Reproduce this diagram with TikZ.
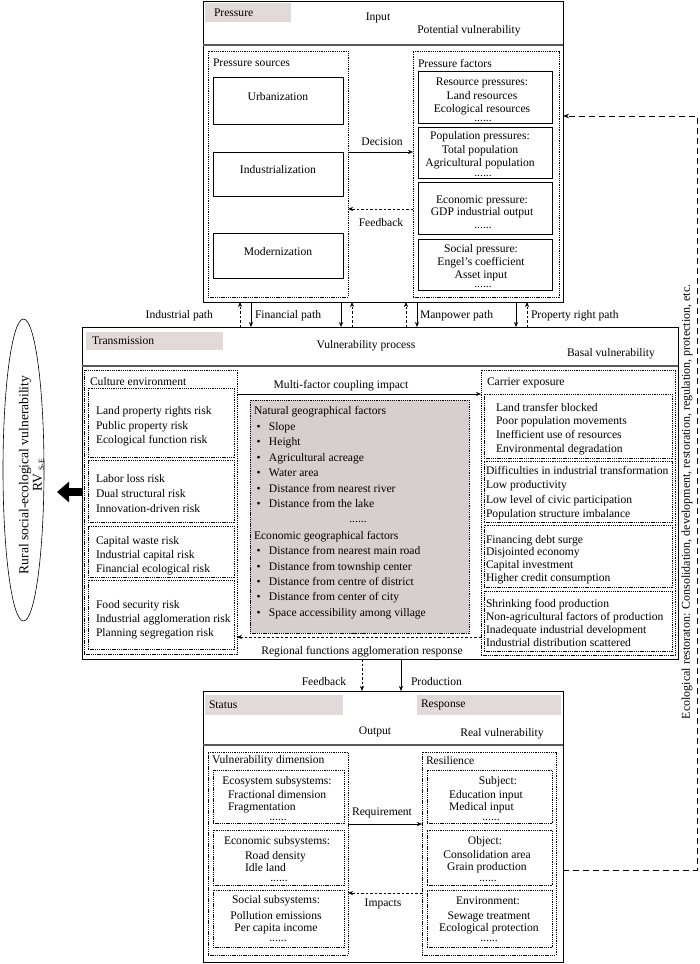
\documentclass[tikz,border=0pt]{standalone}
\usepackage{fontspec}
\setmainfont{Liberation Serif}
\usetikzlibrary{arrows.meta,fit,shapes.geometric}
\definecolor{hdrgray}{RGB}{226,218,216}
\definecolor{boxgray}{RGB}{215,207,205}
\newcommand\fl[1]{\fontsize{11.6}{#1}\selectfont}
\newcommand\bl{\makebox[15pt][l]{\hspace{2.5pt}\textbullet}}
\begin{document}
\begin{tikzpicture}[x=1pt,y=-1pt,
  every node/.style={inner sep=0pt,outer sep=0pt,font=\fl{13.5}},
  solidbox/.style={draw,line width=0.7pt},
  dotbox/.style={draw,line width=0.5pt,dash pattern=on 1.3pt off 0.9pt},
  grayfill/.style={fill=hdrgray},
  arr/.style={-{Stealth[length=5pt,width=4pt]},line width=0.6pt},
  darr/.style={arr,dash pattern=on 2.5pt off 2pt},
  hline/.style={line width=1.1pt,draw=black!65},
  loopline/.style={line width=0.7pt,dash pattern=on 6pt off 4pt},
]
\fill[white] (0,0) rectangle (700,964);
\useasboundingbox (0,0) rectangle (700,964);

% ---------------- top box: Pressure ----------------
\node[solidbox,fit={(203,1)(563,302)}] (top) {};
\draw[hline] (top.west |- 0,45) -- (top.east |- 0,45);
\node[grayfill,fit={(205,3)(291,22)}] (pg) {};
\node[anchor=west] (pgt) at (214,13) {Pressure};
\node (inp) at (378,18) {Input};
\node (pv) at (469,31) {Potential vulnerability};
\node[dotbox,fit={(208,51)(348,297)}] (ps) {};
\node[anchor=west] (pst) at (213,63) {Pressure sources};
\node[solidbox,fit={(213,77)(343,124)}] (urb) {Urbanization};
\node[solidbox,fit={(213,152)(343,196)}] (ind) {Industrialization};
\node[solidbox,fit={(213,233)(343,278)}] (mod) {Modernization};
\node[dotbox,fit={(413,51)(559,297)}] (pf) {};
\node[anchor=west] (pft) at (418,63) {Pressure factors};
\node[solidbox,fit={(418,71)(552,123)}] (res) {};
\node[align=center,font=\fl{13.2}] (rest) at (482,96.5) {Resource pressures:\\Land resources\\Ecological resources};
\node[anchor=base] (resd) at (483,121.5) {......};
\node[solidbox,fit={(418,127)(552,178)}] (pop) {};
\node[align=center,font=\fl{13.6}] (popt) at (480,150.5) {Population pressures:\\Total population\\Agricultural population};
\node[anchor=base] (popd) at (483,176.5) {......};
\node[solidbox,fit={(418,182)(552,234)}] (eco) {};
\node[align=center,font=\fl{12.5}] (ecot) at (482,207) {Economic pressure:\\GDP industrial output};
\node[anchor=base] (ecod) at (483,228.5) {......};
\node[solidbox,fit={(418,239)(552,290)}] (soc) {};
\node[align=center,font=\fl{12.8}] (soct) at (481,262.5) {Social pressure:\\Engel’s coefficient\\Asset input};
\node[anchor=base] (socd) at (483,287.5) {......};
\draw[arr] (ps.east |- 0,152) -- (pf.west |- 0,152);
\node (dec) at (382,142) {Decision};
\draw[darr] (pf.west |- 0,209) -- (ps.east |- 0,209);
\node (fb1) at (381,223) {Feedback};

% ---------------- transmission box ----------------
\node[solidbox,fit={(82,327)(678,659)}] (trn) {};
\draw[hline] (trn.west |- 0,366) -- (trn.east |- 0,366);
\node[grayfill,fit={(86,332)(223,350)}] (tg) {};
\node[anchor=west] (tgt) at (92,341) {Transmission};
\node (vp) at (366,346) {Vulnerability process};
\node[anchor=west] (bv) at (567,354) {Basal vulnerability};

% paths between top and transmission
\foreach \x in {240,352,406,527} \draw[darr] (trn.north -| \x,0) -- (top.south -| \x,0);
\foreach \x in {251,341,417,516} \draw[arr] (top.south -| \x,0) -- (trn.north -| \x,0);
\node[anchor=east] (p1) at (213,316) {Industrial path};
\node[anchor=west] (p2) at (255,316) {Financial path};
\node[anchor=west] (p3) at (420,316) {Manpower path};
\node[anchor=west] (p4) at (531,316) {Property right path};

% culture environment
\node[dotbox,fit={(84,370)(237,654)}] (cul) {};
\node[anchor=west] (cult) at (90,382) {Culture environment};
\node[dotbox,fit={(88,388)(234,457)}] (c1) {};
\node[anchor=west,align=left,font=\fl{14.5}] (c1t) at (96,426.5) {Land property rights risk\\Public property risk\\Ecological function risk};
\node[dotbox,fit={(88,460)(234,522)}] (c2) {};
\node[anchor=west,align=left,font=\fl{15}] (c2t) at (96,493.5) {Labor loss risk\\Dual structural risk\\Innovation-driven risk};
\node[dotbox,fit={(88,526)(234,577)}] (c3) {};
\node[anchor=west,align=left,font=\fl{14}] (c3t) at (96,555.5) {Capital waste risk\\Industrial capital risk\\Financial ecological risk};
\node[dotbox,fit={(88,580)(234,649)}] (c4) {};
\node[anchor=west,align=left,font=\fl{14}] (c4t) at (96,619.5) {Food security risk\\Industrial agglomeration risk\\Planning segregation risk};

% geographical factors
\node[dotbox,fill=boxgray,fit={(250,400)(469,633)}] (geo) {};
\node[anchor=west,align=left,font=\fl{15.5}] (geo1) at (254,457) {Natural geographical factors\\\bl Slope\\\bl Height\\\bl Agricultural acreage\\\bl Water area\\\bl Distance from nearest river\\\bl Distance from the lake};
\node[anchor=base] (geod1) at (358,522) {......};
\node[anchor=west,align=left,font=\fl{15.4}] (geo2) at (254,575) {Economic geographical factors\\\bl Distance from nearest main road\\\bl Distance from township center\\\bl Distance from centre of district\\\bl Distance from center of city\\\bl Space accessibility among village};
\node[anchor=base] (geod2) at (357,634) {......};

% carrier exposure
\node[dotbox,fit={(481,370)(675,655)}] (car) {};
\node[anchor=west] (cart) at (487,383) {Carrier exposure};
\node[dotbox,fit={(484,394)(672,458)}] (e1) {};
\node[anchor=west,align=left,font=\fl{13.7}] (e1t) at (496,429) {Land transfer blocked\\Poor population movements\\Inefficient use of resources\\Environmental degradation};
\node[dotbox,fit={(484,461)(672,522)}] (e2) {};
\node[anchor=west,align=left,font=\fl{14.3}] (e2t) at (486,493) {Difficulties in industrial transformation\\Low productivity\\Low level of civic participation\\Population structure imbalance};
\node[dotbox,fit={(484,525)(672,587)}] (e3) {};
\node[anchor=west,align=left,font=\fl{12.6}] (e3t) at (486,559.5) {Financing debt surge\\Disjointed economy\\Capital investment\\Higher credit consumption};
\node[dotbox,fit={(484,591)(672,651)}] (e4) {};
\node[anchor=west,align=left,font=\fl{13}] (e4t) at (486,623) {Shrinking food production\\Non-agricultural factors of production\\Inadequate industrial development\\Industrial distribution scattered};

\draw[arr] (cul.east |- 0,394) -- (car.west |- 0,394);
\node (mf) at (341,386) {Multi-factor coupling impact};
\draw[darr] (car.west |- 0,637) -- (cul.east |- 0,637);
\node (rf) at (362,652) {Regional functions agglomeration response};

% left ellipse
\node[draw,ellipse,line width=0.6pt,minimum width=41pt,minimum height=302pt] (ell) at (23.5,470) {};
\node[rotate=90,font=\fontsize{13.6}{16}\selectfont] (ellt) at (25,475) {Rural social-ecological vulnerability};
\node[rotate=90,font=\fontsize{13.6}{16}\selectfont] (ellrv) at (38.5,475) {RV\,\raisebox{-0.35ex}{\fontsize{8}{9}\selectfont S-E}};
\coordinate (ellar) at (57,492);
\draw[line width=8pt,-{Triangle[length=12pt,width=20pt]}] (trn.west |- ellar) -- (ellar);

% ---------------- bottom box ----------------
\draw[darr] (trn.south -| 362,0) -- (362,691);
\node[solidbox,fit={(203,691)(563,962)}] (bot) {};
\node (fb2) at (324,682) {Feedback};
\draw[arr] (trn.south -| 401,0) -- (bot.north -| 401,0);
\node[anchor=west] (prod) at (411,682) {Production};
\draw[hline] (bot.west |- 0,745) -- (bot.east |- 0,745);
\node[grayfill,fit={(205,695)(343,715)}] (sg) {};
\node[anchor=west] (sgt) at (209,705) {Status};
\node[grayfill,fit={(417,695)(561,715)}] (rg) {};
\node[anchor=west] (rgt) at (421,705) {Response};
\node (outp) at (375,732) {Output};
\node (rv) at (502,734) {Real vulnerability};

\node[dotbox,fit={(208,752)(348,955)}] (vd) {};
\node[anchor=west] (vdt) at (212,761) {Vulnerability dimension};
\node[dotbox,fit={(422,752)(556,955)}] (rs) {};
\node[anchor=west] (rst) at (426,761) {Resilience};

\node[dotbox,fit={(213,770)(344,823)}] (b1) {};
\node (b1h) at (277,782) {Ecosystem subsystems:};
\node[anchor=west,align=left,font=\fl{12}] (b1t) at (228,802) {Fractional dimension\\Fragmentation};
\node[anchor=base] (b1d) at (278,820.5) {......};
\node[dotbox,fit={(213,830)(344,885)}] (b2) {};
\node (b2h) at (277,842) {Economic subsystems:};
\node[anchor=west,align=left,font=\fl{12}] (b2t) at (245,862) {Road density\\Idle land};
\node[anchor=base] (b2d) at (279,881.5) {......};
\node[dotbox,fit={(213,890)(344,947)}] (b3) {};
\node (b3h) at (276,901) {Social subsystems:};
\node[align=center,font=\fl{12}] (b3t) at (276,923) {Pollution emissions\\Per capita income};
\node[anchor=base] (b3d) at (278,941.5) {......};

\node[dotbox,fit={(427,770)(552,823)}] (r1) {};
\node (r1h) at (498,782) {Subject:};
\node[anchor=west,align=left,font=\fl{12}] (r1t) at (449,802) {Education input\\Medical input};
\node[anchor=base] (r1d) at (491,820.5) {......};
\node[dotbox,fit={(427,830)(552,885)}] (r2) {};
\node (r2h) at (485,842) {Object:};
\node[align=center,font=\fl{12}] (r2t) at (487,862) {Consolidation area\\Grain production};
\node[anchor=base] (r2d) at (488,881.5) {......};
\node[dotbox,fit={(427,890)(552,947)}] (r3) {};
\node (r3h) at (488,901) {Environment:};
\node[align=center,font=\fl{12}] (r3t) at (489,923) {Sewage treatment\\Ecological protection};
\node[anchor=base] (r3d) at (489,941.5) {......};

\draw[arr] (vd.east |- 0,824) -- (rs.west |- 0,824);
\node (req) at (382,813) {Requirement};
\draw[darr] (rs.west |- 0,893) -- (vd.east |- 0,893);
\node (imp) at (383,904) {Impacts};

% ---------------- right feedback loop ----------------
\coordinate (lpb) at (697,870);
\coordinate (lpt) at (697,116);
\draw[loopline,-{Stealth[length=6pt,width=4.5pt]}] (bot.east |- lpb) -- (lpb) -- (lpt) -- (top.east |- lpt);
\node[rotate=90,anchor=west,font=\fontsize{12}{14}\selectfont] (ecr) at (687,719) {Ecological restoraton: Consolidation, development, restoration, regulation, protection, etc.};
\end{tikzpicture}
\end{document}
